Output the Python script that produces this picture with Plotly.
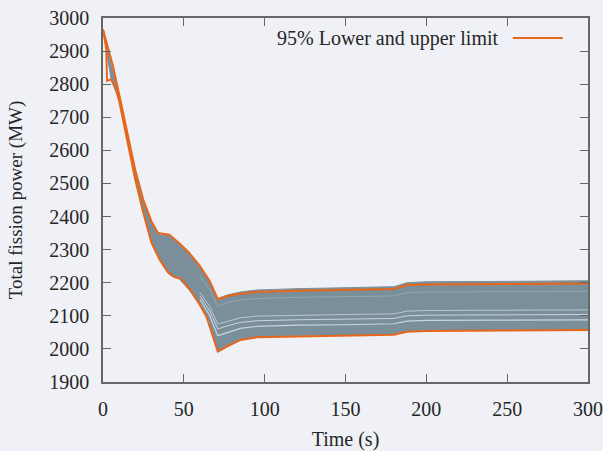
import plotly.graph_objects as go

# Upper 95% limit
t_up = [0, 3, 6, 10, 15, 20, 25, 30, 34, 41, 47, 53, 60, 66, 71, 77, 85, 95, 120, 150, 180, 188, 200, 250, 300]
p_up = [2965, 2915, 2858, 2770, 2650, 2540, 2450, 2385, 2350, 2345, 2320, 2292, 2250, 2205, 2150, 2160, 2167, 2172, 2176, 2178, 2181, 2193, 2195, 2196, 2198]

# Lower 95% limit
t_lo = [0, 1.5, 2, 2.5, 5, 8, 10, 15, 20, 25, 30, 35, 40, 44, 48, 54, 60, 64, 68, 71, 77, 85, 95, 120, 150, 180, 188, 200, 250, 300]
p_lo = [2965, 2912, 2908, 2810, 2815, 2785, 2750, 2630, 2510, 2410, 2320, 2270, 2232, 2217, 2213, 2178, 2132, 2097, 2036, 1992, 2008, 2027, 2035, 2038, 2040, 2043, 2052, 2054, 2056, 2057]

# Ensemble envelope (dense grey runs)
t_band = [0, 5, 10, 15, 20, 25, 30, 35, 41, 47, 53, 60, 66, 71, 77, 85, 95, 120, 150, 180, 188, 200, 250, 300]
band_top = [2965, 2860, 2768, 2648, 2535, 2445, 2380, 2345, 2342, 2318, 2290, 2248, 2203, 2152, 2163, 2172, 2178, 2182, 2185, 2188, 2200, 2203, 2204, 2206]
band_bot = [2965, 2815, 2752, 2632, 2512, 2412, 2322, 2268, 2225, 2212, 2180, 2134, 2080, 1994, 2010, 2029, 2036, 2039, 2041, 2045, 2053, 2055, 2057, 2058]

# Individual lighter runs
t_run = [60, 66, 71, 77, 85, 95, 120, 150, 180, 188, 200, 250, 300]
run_a = [2150, 2100, 2040, 2050, 2062, 2068, 2072, 2073, 2076, 2084, 2086, 2087, 2088]
run_b = [2160, 2115, 2060, 2070, 2080, 2085, 2088, 2090, 2092, 2100, 2102, 2103, 2104]
run_c = [2170, 2128, 2075, 2084, 2094, 2099, 2102, 2104, 2106, 2114, 2116, 2117, 2118]
run_d = [2220, 2180, 2128, 2140, 2148, 2152, 2156, 2158, 2160, 2170, 2172, 2173, 2174]

orange = "#e8661a"
band_col = "#7b8f9b"
light = "rgba(215,225,232,0.85)"
bg = "#eff1f6"
font_fam = "Liberation Serif, DejaVu Serif, serif"
txt = "#262626"

fig = go.Figure()
fig.add_trace(go.Scatter(x=t_band, y=band_bot, mode="lines", line=dict(color=band_col, width=1),
                         showlegend=False, hoverinfo="skip"))
fig.add_trace(go.Scatter(x=t_band, y=band_top, mode="lines", line=dict(color=band_col, width=1),
                         fill="tonexty", fillcolor=band_col, showlegend=False, hoverinfo="skip"))
for r, w in [(run_a, 1.2), (run_b, 1.0), (run_c, 0.8)]:
    fig.add_trace(go.Scatter(x=t_run, y=r, mode="lines", line=dict(color=light, width=w),
                             showlegend=False, hoverinfo="skip"))
fig.add_trace(go.Scatter(x=t_run, y=run_d, mode="lines", line=dict(color="rgba(160,178,190,0.8)", width=0.8),
                         showlegend=False, hoverinfo="skip"))
fig.add_trace(go.Scatter(x=t_up, y=p_up, mode="lines", line=dict(color=orange, width=2),
                         name="95% Lower and upper limit", showlegend=False))
fig.add_trace(go.Scatter(x=t_lo, y=p_lo, mode="lines", line=dict(color=orange, width=2),
                         showlegend=False))

# Legend (text left, line sample right)
fig.add_annotation(x=0.818, y=0.945, xref="paper", yref="paper", xanchor="right", yanchor="middle",
                   text="95% Lower and upper limit", showarrow=False,
                   font=dict(family=font_fam, size=20, color=txt))
fig.add_shape(type="line", xref="paper", yref="paper", x0=0.845, x1=0.948, y0=0.945, y1=0.945,
              line=dict(color=orange, width=2))

axis_common = dict(showline=True, linecolor="#666", linewidth=1.5, mirror="ticks", ticks="inside",
                   ticklen=8, tickcolor="#666", tickwidth=1.2, showgrid=False, zeroline=False,
                   automargin=False,
                   tickfont=dict(family=font_fam, size=20, color=txt))
fig.update_xaxes(range=[0, 300], dtick=50, tick0=0, ticklabelstandoff=8,
                 title=dict(text="Time (s)", font=dict(family=font_fam, size=20, color=txt), standoff=13),
                 **axis_common)
fig.update_yaxes(range=[1900, 3000], dtick=100, tick0=1900, ticklabelstandoff=8,
                 title=dict(text="Total fission power (MW)", font=dict(family=font_fam, size=19, color=txt), standoff=22),
                 **axis_common)
fig.update_layout(width=603, height=451, margin=dict(l=103, r=15, t=18, b=69),
                  paper_bgcolor=bg, plot_bgcolor=bg, showlegend=False)
fig.write_html("out.html", config={"displayModeBar": False},
               post_script="document.body.style.margin='0';document.body.style.overflow='hidden';")
